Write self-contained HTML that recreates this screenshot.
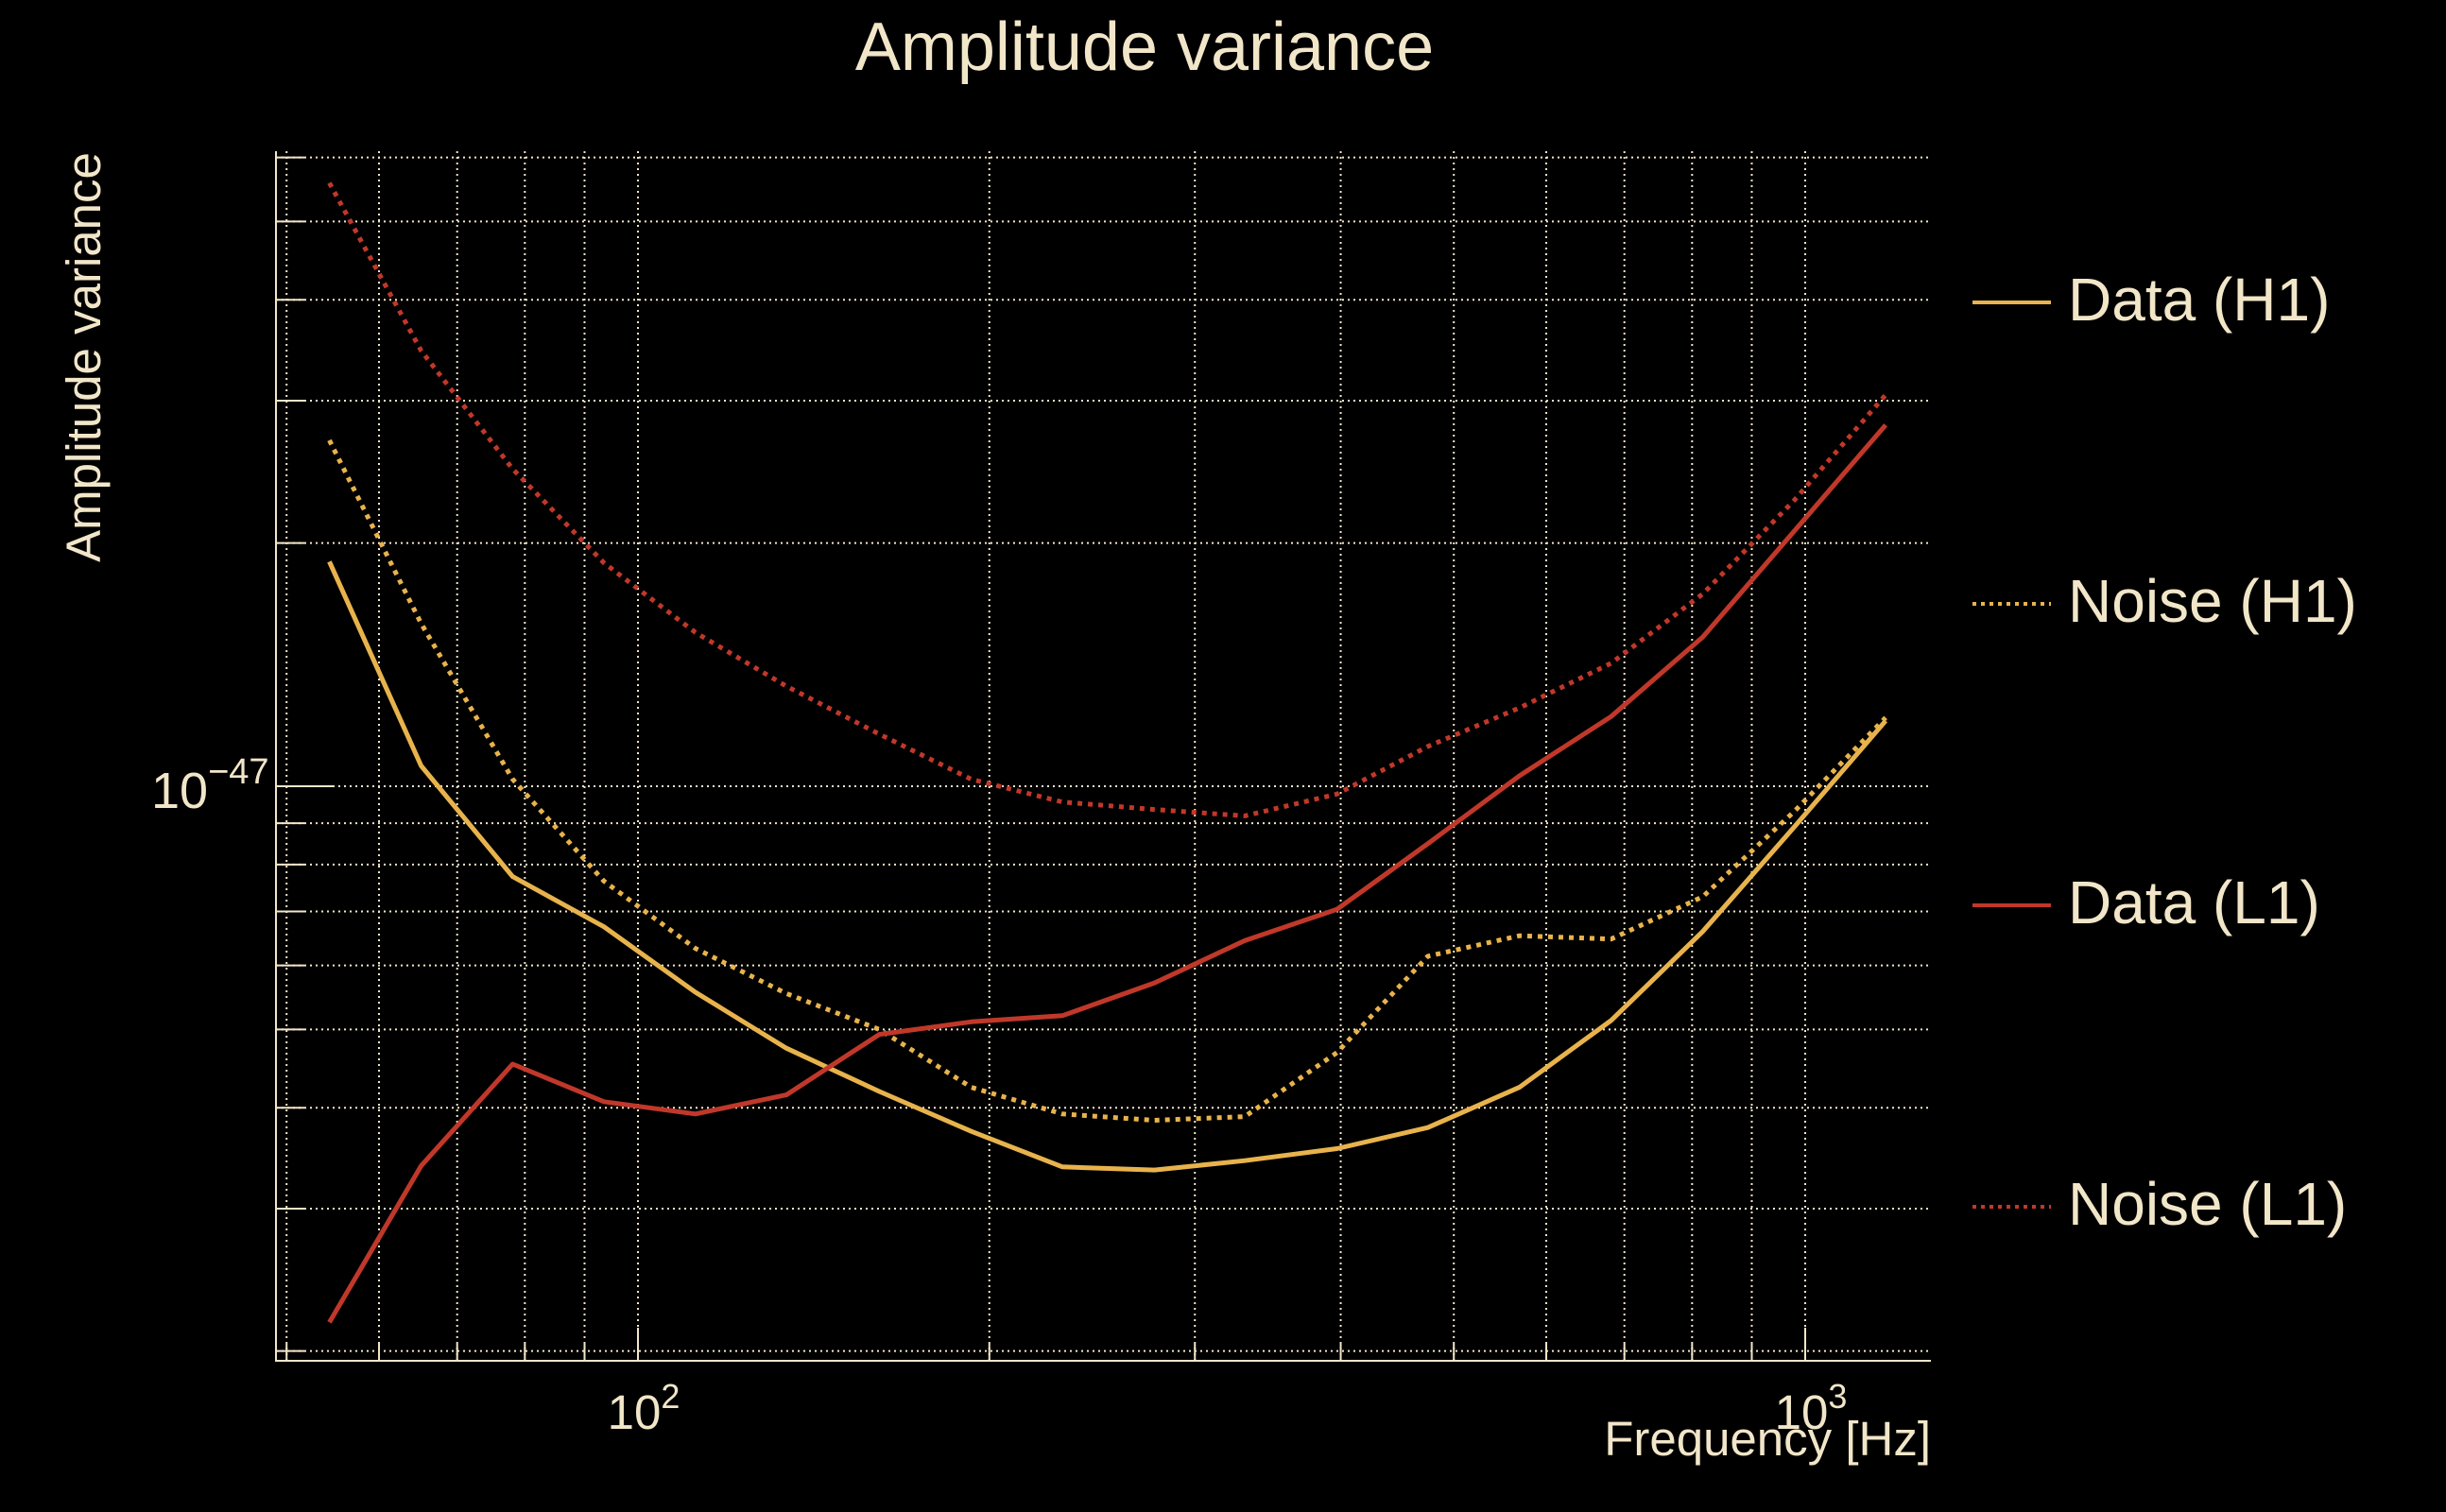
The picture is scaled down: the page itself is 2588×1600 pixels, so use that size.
<!DOCTYPE html>
<html><head><meta charset="utf-8"><style>
html,body{margin:0;padding:0;background:#000;}
svg{display:block;}
text{font-family:"Liberation Sans",sans-serif;fill:#f2e6c9;}
</style></head><body>
<svg id="chart" width="2588" height="1600" viewBox="0 0 2588 1600">
<rect width="2588" height="1600" fill="#000"/>
<g id="grid"></g>
<g id="series"></g>
<g id="axes"></g>
<text x="1211" y="74" font-size="72" text-anchor="middle">Amplitude variance</text>
<text transform="translate(106,378) rotate(-90)" font-size="51" text-anchor="middle">Amplitude variance</text>
<text x="2043" y="1540" font-size="51" text-anchor="end">Frequency [Hz]</text>
<g id="legend"></g>
</svg>
<script>
const freqs = [54.4, 65.2, 78.1, 93.5, 112, 134, 161, 193, 231, 277, 331, 397, 475, 569, 682, 817, 979, 1172];
// values in units of 1e-48
const dataH1 = [18.97, 10.6, 7.73, 6.70, 5.56, 4.74, 4.19, 3.74, 3.38, 3.35, 3.44, 3.56, 3.78, 4.24, 5.13, 6.61, 8.91, 12.05];
const noiseH1 = [26.8, 15.9, 10.2, 7.63, 6.30, 5.54, 5.00, 4.24, 3.93, 3.86, 3.90, 4.68, 6.16, 6.53, 6.47, 7.30, 9.31, 12.16];
const dataL1 = [2.17, 3.39, 4.53, 4.07, 3.93, 4.15, 4.93, 5.11, 5.20, 5.71, 6.44, 7.04, 8.49, 10.3, 12.2, 15.3, 20.7, 28.0];
const noiseL1 = [55.8, 34.6, 24.7, 18.9, 15.5, 13.3, 11.6, 10.2, 9.56, 9.36, 9.19, 9.78, 11.2, 12.5, 14.2, 17.3, 22.6, 30.5];
const xGridFreqs = [50, 60, 70, 80, 90, 100, 200, 300, 400, 500, 600, 700, 800, 900, 1000];
const yGridVals = [2, 3, 4, 5, 6, 7, 8, 9, 10, 20, 30, 40, 50, 60];
const xTickLabels = [{v:100, base:'10', exp:'2'}, {v:1000, base:'10', exp:'3'}];
const yTickLabels = [{v:10, base:'10', exp:'\u221247'}];

const L=292,R=2043,T=160,B=1440;
function xs(f){return 675+(Math.log10(f)-2)*1235;}
function ys(v){return 832-Math.log10(v/10)*855;}
const NS='http://www.w3.org/2000/svg';
function mk(tag,attrs,parent){const e=document.createElementNS(NS,tag);for(const k in attrs)e.setAttribute(k,attrs[k]);parent.appendChild(e);return e;}
const grid=document.getElementById('grid'),axes=document.getElementById('axes'),ser=document.getElementById('series'),leg=document.getElementById('legend');
const gc='#f2e6c9';
xGridFreqs.forEach(f=>{const x=xs(f);
 const g=mk('line',{x1:x,x2:x,y1:T,y2:B,stroke:gc,'stroke-width':2,'stroke-dasharray':'2 4'},grid);
 
 
 const major=(f===100||f===1000);
 const t=mk('line',{x1:x,x2:x,y1:B,y2:B-(major?35:18),stroke:gc,'stroke-width':2},axes);
 
 
});
yGridVals.forEach(v=>{const y=ys(v);
 const g=mk('line',{x1:L,x2:R,y1:y,y2:y,stroke:gc,'stroke-width':2,'stroke-dasharray':'2 4'},grid);
 
 
 const t=mk('line',{x1:L,x2:L+(v===10?60:30),y1:y,y2:y,stroke:gc,'stroke-width':2},axes);
 
 
});
const sp=mk('path',{d:`M${L},${T} V${B} H${R}`,fill:'none',stroke:gc,'stroke-width':2},axes);


xTickLabels.forEach(o=>{
 const t=mk('text',{x:xs(o.v)+6,y:1512,'font-size':51,'text-anchor':'middle'},axes);
 
 
 t.textContent=o.base;
 const s=mk('tspan',{dy:-22,'font-size':36},t);s.textContent=o.exp;
});
yTickLabels.forEach(o=>{
 const t=mk('text',{x:160,y:ys(o.v)+23,'font-size':54},axes);
 
 
 t.textContent=o.base;
 const s=mk('tspan',{dy:-26,'font-size':38},t);s.textContent=o.exp;
});
const yellow='#e8b34c',red='#c0382a';
const seriesDefs=[
 {vals:dataH1,color:yellow,dash:null,name:'Data (H1)',id:'data-h1'},
 {vals:noiseH1,color:yellow,dash:'5 6',name:'Noise (H1)',id:'noise-h1'},
 {vals:dataL1,color:red,dash:null,name:'Data (L1)',id:'data-l1'},
 {vals:noiseL1,color:red,dash:'5 6',name:'Noise (L1)',id:'noise-l1'}];
seriesDefs.forEach((s,i)=>{
 const d=s.vals.map((v,j)=>(j?'L':'M')+xs(freqs[j]).toFixed(1)+','+ys(v).toFixed(1)).join(' ');
 const a={d:d,fill:'none',stroke:s.color,'stroke-width':5,'stroke-linejoin':'round'};
 if(s.dash)a['stroke-dasharray']=s.dash;
 const p=mk('path',a,ser);
 
 
 const ly=320+i*319;
 const g=mk('g',{},leg);
 
 
 const la={x1:2087,x2:2170,y1:ly,y2:ly,stroke:s.color,'stroke-width':4};
 if(s.dash)la['stroke-dasharray']='4 5';
 mk('line',la,g);
 const t=mk('text',{x:2188,y:ly+19,'font-size':64},g);
 t.textContent=s.name;
});
</script>
</body></html>
